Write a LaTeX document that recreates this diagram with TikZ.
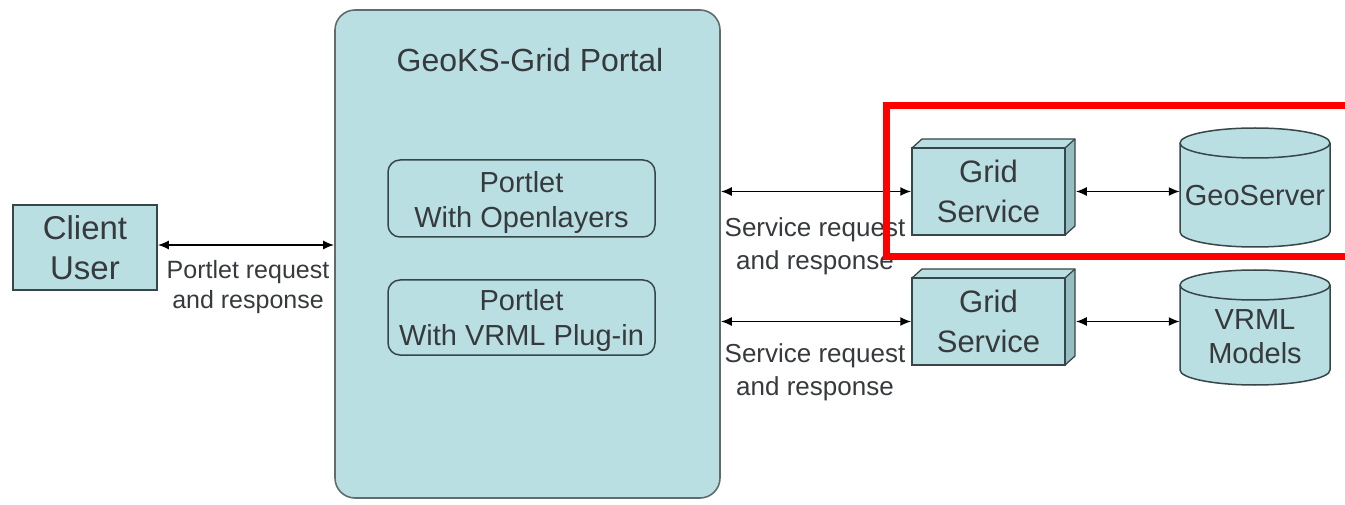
\documentclass[tikz,border=0pt]{standalone}
\usepackage{fontspec}
\setmainfont{Liberation Sans}
\usetikzlibrary{arrows.meta}
\definecolor{boxfill}{RGB}{186,223,227}
\definecolor{sidefill}{RGB}{150,190,194}
\definecolor{edge}{RGB}{55,70,72}
\definecolor{txt}{RGB}{55,58,60}
\tikzset{
  x=1pt,y=-1pt,
  every node/.style={text=txt, font=\fontsize{26}{33}\selectfont},
  plainbox/.style={draw=edge, line width=1.6pt, fill=boxfill, align=center, inner sep=0pt},
  portalbox/.style={draw=edge!80, line width=1.6pt, fill=boxfill, rounded corners=20pt, inner sep=0pt},
  portletbox/.style={draw=edge, line width=1.5pt, rounded corners=12pt, inner sep=0pt},
  gridbox/.style={draw=edge, line width=1.5pt, fill=boxfill, align=center, inner sep=0pt,
     minimum width=153pt, minimum height=87pt, font=\fontsize{31}{40}\selectfont},
  face/.style={draw=edge, line width=1.3pt, line join=round},
  cyl/.style={draw=edge, line width=1.5pt, fill=boxfill},
  anchorbox/.style={minimum width=150pt, inner sep=0pt},
  link/.style={line width=1.8pt, draw=black, {Latex[length=11pt,width=9pt]}-{Latex[length=11pt,width=9pt]}},
  lbl/.style={align=center, inner sep=0pt},
  highlight/.style={draw=red, line width=7pt}
}
\begin{document}
\begin{tikzpicture}
\useasboundingbox (0,0) rectangle (1345,505);

% Client
\node[plainbox, minimum width=144pt, minimum height=85pt, font=\fontsize{33}{40}\selectfont] (client) at (85,247.5) {Client\\User};

% Portal
\node[portalbox, minimum width=385pt, minimum height=488pt] (portal) at (527.5,254) {};
\node[inner sep=0pt, font=\fontsize{32}{38}\selectfont] (title) at (530,60) {GeoKS-Grid Portal};
\node[portletbox, minimum width=267pt, minimum height=77pt] (p1) at (521.5,198.5) {};
\node[lbl, font=\fontsize{29}{35}\selectfont] (p1t) at (521.5,203) {Portlet\\With Openlayers};
\node[portletbox, minimum width=267pt, minimum height=75pt] (p2) at (521.5,317.5) {};
\node[lbl, font=\fontsize{29}{35}\selectfont] (p2t) at (521.5,321) {Portlet\\With VRML Plug-in};

% Grid service 1 (3D box)
\fill[sidefill] (1065,148) -- (1075,139) -- (1075,226) -- (1065,235) -- cycle;
\fill[boxfill] (912,148) -- (922,139) -- (1075,139) -- (1065,148) -- cycle;
\draw[face] (912,148) -- (922,139) -- (1075,139) -- (1075,226) -- (1065,235);
\draw[face] (1065,148) -- (1075,139);
\node[gridbox] (gs1) at (988.5,191.5) {Grid\\Service};

% Grid service 2 (3D box)
\fill[sidefill] (1065,278) -- (1075,269) -- (1075,356) -- (1065,365) -- cycle;
\fill[boxfill] (912,278) -- (922,269) -- (1075,269) -- (1065,278) -- cycle;
\draw[face] (912,278) -- (922,269) -- (1075,269) -- (1075,356) -- (1065,365);
\draw[face] (1065,278) -- (1075,269);
\node[gridbox] (gs2) at (988.5,321.5) {Grid\\Service};

% Cylinder GeoServer
\path[cyl] (1180,143) -- (1180,232) arc[start angle=180,end angle=360,x radius=75pt,y radius=15pt]
   -- (1330,143) arc[start angle=0,end angle=180,x radius=75pt,y radius=15pt] -- cycle;
\draw[draw=edge, line width=1.5pt] (1180,143) arc[start angle=180,end angle=360,x radius=75pt,y radius=15pt];
\node[anchorbox, minimum height=118pt] (geo) at (1255,191.5) {};
\node[inner sep=0pt, font=\fontsize{29}{35}\selectfont] (geot) at (1255,196) {GeoServer};

% Cylinder VRML
\path[cyl] (1180,285) -- (1180,370) arc[start angle=180,end angle=360,x radius=75pt,y radius=15pt]
   -- (1330,285) arc[start angle=0,end angle=180,x radius=75pt,y radius=15pt] -- cycle;
\draw[draw=edge, line width=1.5pt] (1180,285) arc[start angle=180,end angle=360,x radius=75pt,y radius=15pt];
\node[anchorbox, minimum height=115pt] (vrml) at (1255,321.5) {};
\node[lbl, font=\fontsize{29}{34}\selectfont] (vrmlt) at (1255,337) {VRML\\Models};

% Connectors
\draw[link] (client.east |- 0,245) coordinate (c1) -- (portal.west |- c1);
\draw[link] (portal.east |- gs1.west) -- (gs1.west);
\draw[link] (portal.east |- gs2.west) -- (gs2.west);
\draw[link] ([xshift=10pt]gs1.east) -- (geo.west);
\draw[link] ([xshift=10pt]gs2.east) -- (vrml.west);

% Labels
\node[lbl, font=\fontsize{25}{30}\selectfont] (l1) at (248,287) {Portlet request\\and response};
\node[lbl] (l2) at (815,246) {Service request\\and response};
\node[lbl] (l3) at (815,372) {Service request\\and response};

% Highlight
\draw[highlight] (1360,106) -- (886,106) -- (886,257) -- (1360,257);
\end{tikzpicture}
\end{document}
